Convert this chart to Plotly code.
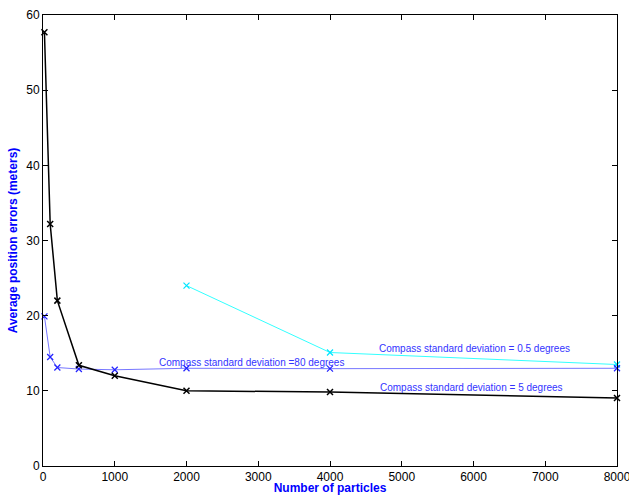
import plotly.graph_objects as go

particles = [20, 100, 200, 500, 1000, 2000, 4000, 8000]
err_5deg = [57.7, 32.2, 22.0, 13.4, 12.0, 10.0, 9.85, 9.05]
err_80deg = [19.9, 14.5, 13.1, 12.9, 12.8, 13.0, 12.95, 13.0]
particles_05 = [2000, 4000, 8000]
err_05deg = [24.0, 15.1, 13.5]

label_80 = "Compass standard deviation =80 degrees"
label_05 = "Compass standard deviation = 0.5 degrees"
label_5 = "Compass standard deviation = 5 degrees"

fig = go.Figure()
fig.add_trace(go.Scatter(x=particles_05, y=err_05deg, mode="lines+markers", cliponaxis=False,
                         line=dict(color="#33ffff", width=1),
                         marker=dict(symbol="x-thin", size=6, line=dict(color="#00e5ff", width=1.2))))
fig.add_trace(go.Scatter(x=particles, y=err_80deg, mode="lines+markers", cliponaxis=False,
                         line=dict(color="rgba(60,60,255,0.7)", width=1),
                         marker=dict(symbol="x-thin", size=6, line=dict(color="#2222ff", width=1.2))))
fig.add_trace(go.Scatter(x=particles, y=err_5deg, mode="lines+markers", cliponaxis=False,
                         line=dict(color="black", width=1.5),
                         marker=dict(symbol="x-thin", size=6, line=dict(color="black", width=1.5))))

ann_font = dict(family="Liberation Sans, Arial", size=10, color="#3333ff")
fig.add_annotation(x=1590, y=13.8, text=label_80, showarrow=False, xanchor="left", yanchor="middle", font=ann_font)
fig.add_annotation(x=4655, y=15.6, text=label_05, showarrow=False, xanchor="left", yanchor="middle", font=ann_font)
fig.add_annotation(x=4670, y=10.4, text=label_5, showarrow=False, xanchor="left", yanchor="middle", font=ann_font)

axis_common = dict(showline=True, linecolor="black", linewidth=1, mirror="ticks",
                   ticks="inside", ticklen=5, tickcolor="black", showgrid=False, zeroline=False,
                   automargin=False, ticklabeloverflow="allow",
                   tickfont=dict(family="Liberation Sans, Arial", size=12, color="black"))
fig.update_xaxes(range=[0, 8000], tickvals=[0, 1000, 2000, 3000, 4000, 5000, 6000, 7000, 8000],
                 title=dict(text="<b>Number of particles</b>", standoff=4,
                            font=dict(family="Liberation Sans, Arial", size=12, color="#0000ff")),
                 **axis_common)
fig.update_yaxes(range=[0, 60], tickvals=[0, 10, 20, 30, 40, 50, 60],
                 title=dict(text="<b>Average position errors (meters)</b>", standoff=6,
                            font=dict(family="Liberation Sans, Arial", size=12, color="#0000ff")),
                 **axis_common)
fig.update_layout(width=629, height=495, margin=dict(l=43, r=12, t=15, b=29),
                  plot_bgcolor="white", paper_bgcolor="white", showlegend=False)
fig.write_html("out.html", config={"displayModeBar": False},
               post_script="document.body.style.margin='0';document.body.style.overflow='hidden';")
